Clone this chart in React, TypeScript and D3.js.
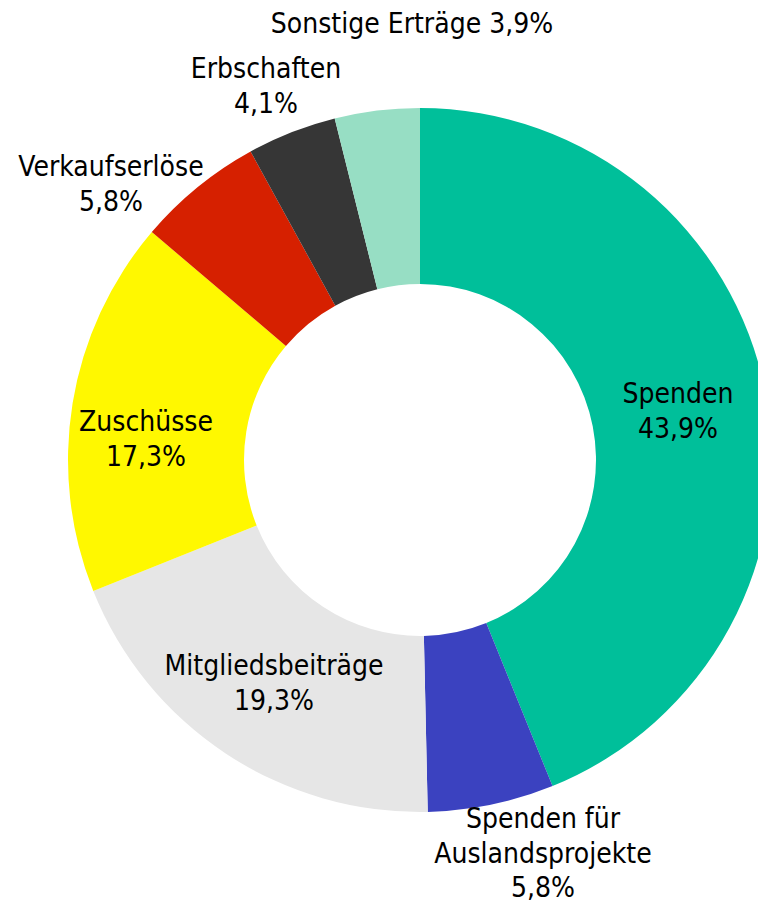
import React from "react";
import * as d3 from "d3";

const categories = [
  "Spenden",
  "Spenden für Auslandsprojekte",
  "Mitgliedsbeiträge",
  "Zuschüsse",
  "Verkaufserlöse",
  "Erbschaften",
  "Sonstige Erträge",
];
const values = [43.9, 5.8, 19.3, 17.3, 5.8, 4.1, 3.9];
const valueLabels = ["43,9%", "5,8%", "19,3%", "17,3%", "5,8%", "4,1%", "3,9%"];
const colors = ["#00BF9A", "#3B42C0", "#E6E6E6", "#FFF800", "#D62000", "#363636", "#97DEC4"];

// label layout: lines of text and first baseline position
const labelLines = [
  ["Spenden", "43,9%"],
  ["Spenden für", "Auslandsprojekte", "5,8%"],
  ["Mitgliedsbeiträge", "19,3%"],
  ["Zuschüsse", "17,3%"],
  ["Verkaufserlöse", "5,8%"],
  ["Erbschaften", "4,1%"],
  ["Sonstige Erträge 3,9%"],
];
const labelPos: [number, number][] = [
  [678, 403],
  [543, 828],
  [274, 675],
  [146, 431],
  [111, 176],
  [266, 78],
  [412, 33],
];

const W = 758;
const H = 906;
const cx = 420;
const cy = 460;
const outerR = 352;
const innerR = 176;

export default function App() {
  const data = categories.map((c, i) => ({ name: c, value: values[i], label: valueLabels[i] }));
  const pie = d3
    .pie<{ name: string; value: number }>()
    .sort(null)
    .value((d) => d.value)
    .startAngle(0)
    .endAngle(2 * Math.PI);
  const arcs = pie(data);
  const arcGen = d3.arc<d3.PieArcDatum<{ name: string; value: number }>>().innerRadius(innerR).outerRadius(outerR);
  const lineH = 34.5;

  return (
    <svg
      width={W}
      height={H}
      style={{ position: "absolute", left: 0, top: 0, display: "block", background: "#fff" }}
      fontFamily="'DejaVu Sans Condensed', 'DejaVu Sans', sans-serif"
    >
      <g transform={`translate(${cx},${cy})`}>
        {arcs.map((a, i) => (
          <path key={i} d={arcGen(a) || ""} fill={colors[i]} />
        ))}
      </g>
      {labelLines.map((lines, i) => (
        <text key={i} textAnchor="middle" fontSize={28} fill="#000">
          {lines.map((l, j) => (
            <tspan key={j} x={labelPos[i][0]} y={labelPos[i][1] + j * lineH}>
              {l}
            </tspan>
          ))}
        </text>
      ))}
    </svg>
  );
}
